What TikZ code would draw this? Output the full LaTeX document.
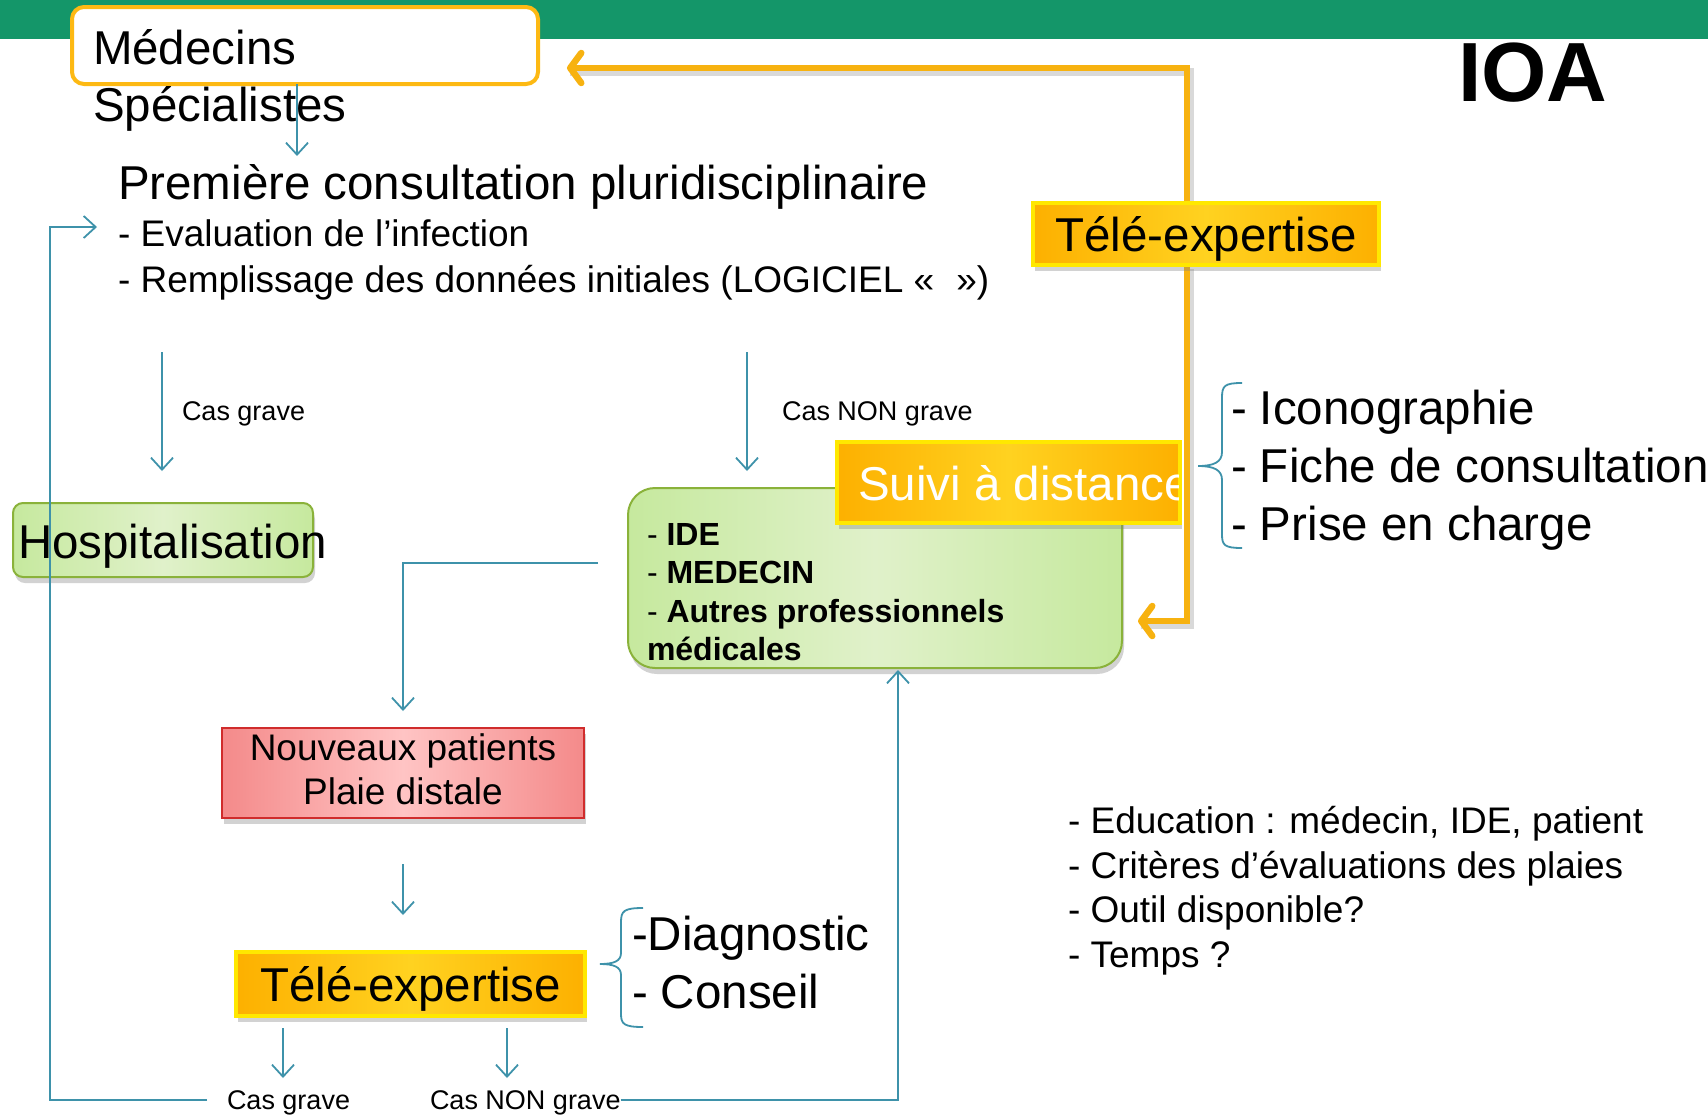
\documentclass[tikz,border=0pt]{standalone}
\usepackage{fontspec}
\setmainfont{Liberation Sans}
\usetikzlibrary{arrows.meta,shadows,calc}
\definecolor{bargreen}{RGB}{20,150,105}
\definecolor{tealc}{RGB}{62,146,170}
\definecolor{orangeline}{RGB}{247,178,16}
\definecolor{medborder}{RGB}{253,185,19}
\definecolor{gedge}{RGB}{198,233,158}
\definecolor{gmid}{RGB}{224,241,202}
\definecolor{gborder}{RGB}{138,178,58}
\definecolor{pedge}{RGB}{244,138,138}
\definecolor{pmid}{RGB}{255,196,196}
\definecolor{pborder}{RGB}{208,44,44}
\definecolor{oedge}{RGB}{253,176,0}
\definecolor{omid}{RGB}{255,210,32}
\definecolor{oborder}{RGB}{255,232,0}
\begin{document}
\begin{tikzpicture}[x=1pt,y=-1pt,
  every node/.style={inner sep=0pt,outer sep=0pt},
  big/.style={font=\fontsize{47.5}{57}\selectfont},
  mid/.style={font=\fontsize{37}{44.5}\selectfont},
  small/.style={font=\fontsize{27}{32}\selectfont},
  boldt/.style={font=\fontsize{32}{38}\selectfont\bfseries},
  tarrow/.style={draw=tealc,line width=1.8pt,-{Straight Barb[length=12pt,width=22pt]}},
  oarrow/.style={draw=orangeline,line width=6.5pt,line join=miter,-{Straight Barb[round,length=11pt,width=30pt]}},
  oshadow/.style={draw=black,opacity=0.15,line width=8pt,line join=miter},
  tbrace/.style={draw=tealc,line width=1.8pt},
  shad/.style={drop shadow={opacity=0.35,shadow xshift=2pt,shadow yshift=-6pt}},
  greenbox/.style={draw=gborder,line width=2pt,left color=gedge,right color=gedge,middle color=gmid,shad},
  orbox/.style={draw=oborder,line width=4pt,left color=oedge,right color=oedge,middle color=omid,shad,big,text height=34pt,text depth=0pt},
  pinkbox/.style={draw=pborder,line width=2.5pt,left color=pedge,right color=pedge,middle color=pmid,shad}
]
\useasboundingbox (0,0) rectangle (1708,1114);
\fill[white] (0,0) rectangle (1708,1114);

% title
\node[anchor=base west,font=\fontsize{84}{90}\selectfont\bfseries] (ioa) at (1458,101) {IOA};
\fill[bargreen] (0,0) rectangle (1708,39);

% named coordinates
\coordinate (ocorner1) at (1187,68);
\coordinate (ocorner2) at (1187,621);
\coordinate (medtip) at (567,68);
\coordinate (greentip) at (1138,621);
\coordinate (loopc) at (50,227);
\coordinate (evaltip) at (97,227);
\coordinate (gl) at (598,563);
\coordinate (medarrow) at (297,156);

% Medecins
\node[draw=medborder,line width=4pt,rounded corners=12pt,fill=white,minimum width=466pt,minimum height=77pt,anchor=north west] (med) at (72,7) {};
\node[big,anchor=base west] (medtxt) at (93,64) {Médecins};
\node[big,anchor=base west] (spetxt) at (93,121) {Spécialistes};

% Premiere consultation
\node[big,anchor=base west] (prem) at (118,199) {Première consultation pluridisciplinaire};
\node[mid,anchor=base west] (eval) at (118,246) {- Evaluation de l’infection};
\node[mid,anchor=base west] (rempl) at (118,292) {- Remplissage des données initiales (LOGICIEL «\hspace{22pt}»)};

% top labels
\node[small,anchor=west] (cg1) at (182,414) {Cas grave};
\node[small,anchor=west] (cng1) at (782,414) {Cas NON grave};

% Hospitalisation
\node[greenbox,rounded corners=10pt,minimum width=300pt,minimum height=74pt,anchor=north west] (hosp) at (13,503) {};
\node[big,anchor=base west] (hosptxt) at (18,558) {Hospitalisation};

% green box
\node[greenbox,rounded corners=27pt,minimum width=494pt,minimum height=180pt,anchor=north west] (green) at (628,488) {};
\node[boldt,anchor=base west] (ide) at (647,545) {{\mdseries -} IDE};
\node[boldt,anchor=base west] (medc) at (647,583) {{\mdseries -} MEDECIN};
\node[boldt,anchor=base west] (autres) at (647,622) {{\mdseries -} Autres professionnels};
\node[boldt,anchor=base west] (medic) at (647,660) {médicales};

% orange connectors (behind orange boxes)
\node[minimum width=346pt,minimum height=62pt] (tele1pos) at (1206,234) {};
\draw[oshadow] ([xshift=3pt,yshift=-4pt]tele1pos.north -| ocorner1) -- ([xshift=3pt,yshift=-4pt]ocorner1) -- ([xshift=3pt,yshift=-4pt]medtip);
\draw[oshadow] ([xshift=3pt,yshift=-4pt]tele1pos.south -| ocorner2) -- ([xshift=3pt,yshift=-4pt]ocorner2) -- ([xshift=3pt,yshift=-4pt]greentip);
\draw[oarrow] (tele1pos.north -| ocorner1) -- (ocorner1) -- (medtip);
\draw[oarrow] (tele1pos.south -| ocorner2) -- (ocorner2) -- (greentip);

% Tele-expertise top
\node[orbox,minimum width=346pt,minimum height=62pt] (tele1) at (1206,234) {Télé-expertise};

% Suivi a distance
\node[orbox,minimum width=343pt,minimum height=81pt,anchor=north west] (suivi) at (837,442) {};
\begin{scope}
\clip ([xshift=4pt]suivi.north west) rectangle ([xshift=-2pt]suivi.south east);
\node[big,white,anchor=base west] (suivitxt) at (858,500) {Suivi à distance};
\end{scope}

% right brace and list
\draw[tbrace] (1242,383) .. controls (1224,383) and (1222,386) .. (1222,398) -- (1222,452) .. controls (1222,462) and (1214,466) .. (1198,466) .. controls (1214,466) and (1222,470) .. (1222,480) -- (1222,534) .. controls (1222,545) and (1224,548) .. (1242,548);
\node[big,anchor=base west] (icono) at (1231,424) {- Iconographie};
\node[big,anchor=base west] (fiche) at (1231,482) {- Fiche de consultation};
\node[big,anchor=base west] (prise) at (1231,540) {- Prise en charge};

% Nouveaux patients
\node[pinkbox,minimum width=362pt,minimum height=90pt,mid,align=center] (nouv) at (403,773) {Nouveaux patients\\Plaie distale\vphantom{p}};

% Tele-expertise bottom
\node[orbox,minimum width=349pt,minimum height=64pt] (tele2) at (410.5,984) {Télé-expertise};

% left brace and text
\draw[tbrace] (643,908) .. controls (624,908) and (621,911) .. (621,922) -- (621,953) .. controls (621,961) and (614,964) .. (600,964) .. controls (614,964) and (621,967) .. (621,975) -- (621,1014) .. controls (621,1024) and (624,1027) .. (643,1027);
\node[big,anchor=base west] (diag) at (632,950) {-Diagnostic};
\node[big,anchor=base west] (cons) at (632,1008) {- Conseil};

% bottom right list
\node[mid,anchor=base west] (edu) at (1068,833) {- Education : médecin, IDE, patient};
\node[mid,anchor=base west] (crit) at (1068,878) {- Critères d’évaluations des plaies};
\node[mid,anchor=base west] (outil) at (1068,922) {- Outil disponible?};
\node[mid,anchor=base west] (temps) at (1068,967) {- Temps ?};

% bottom labels
\node[small,anchor=west] (cg2) at (227,1103) {Cas grave};
\node[small,anchor=west] (cng2) at (430,1103) {Cas NON grave};

% teal arrows
\draw[tarrow] (med.south -| medarrow) -- (medarrow);
\draw[tarrow] ([yshift=151pt]hosp.north -| 162,0) -- ([yshift=32pt]hosp.north -| 162,0);
\draw[tarrow] ([yshift=136pt]green.north -| 747,0) -- ([yshift=17pt]green.north -| 747,0);
\draw[tarrow] (gl) -| ([yshift=17pt]nouv.north);
\draw[tarrow] ([yshift=-46pt]nouv.south) -- ([yshift=37pt]tele2.north -| nouv.south);
\draw[tarrow] ([yshift=-12pt]tele2.south -| 283,0) -- ([yshift=-62pt]tele2.south -| 283,0);
\draw[tarrow] ([yshift=-12pt]tele2.south -| 507,0) -- ([yshift=-62pt]tele2.south -| 507,0);
\draw[tarrow] ([xshift=-20pt,yshift=3pt]cg2.west) -| (loopc) -- (evaltip);
\draw[tarrow] ([yshift=3pt]cng2.east) -| ([xshift=23pt,yshift=-2pt]green.south);
\end{tikzpicture}
\end{document}
